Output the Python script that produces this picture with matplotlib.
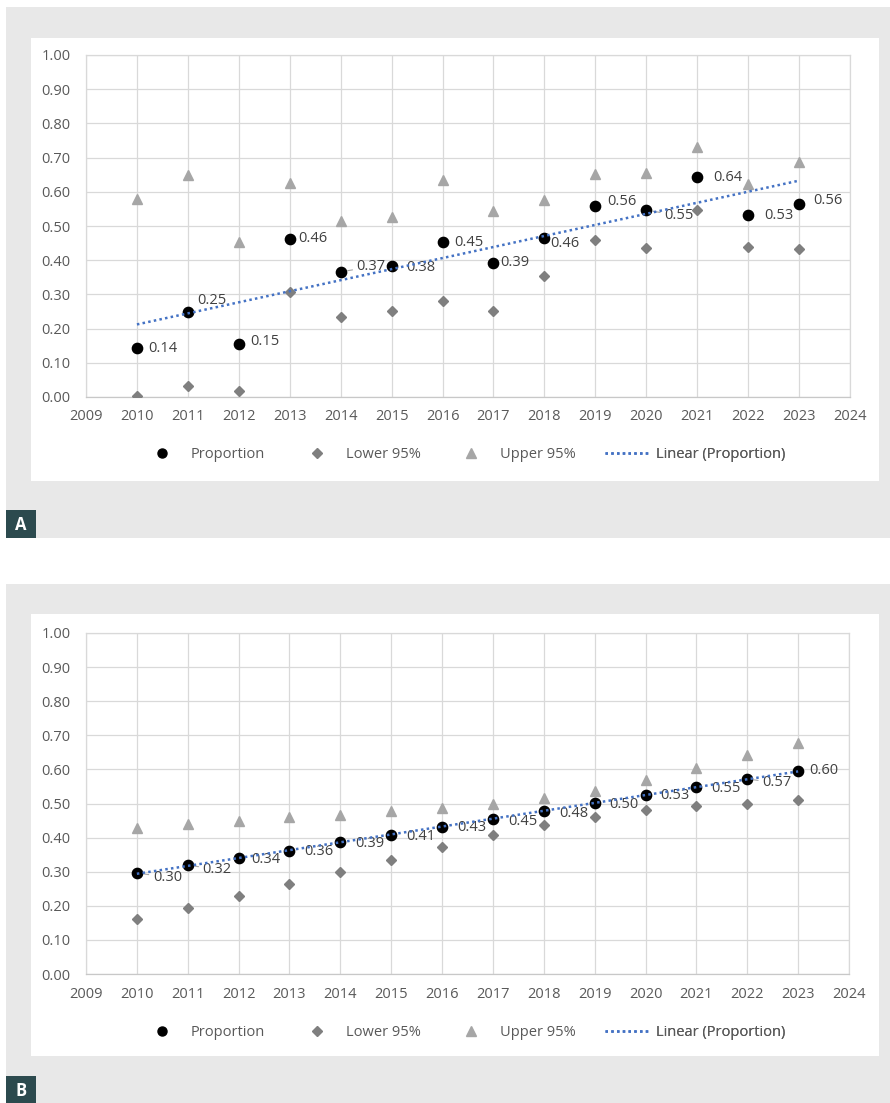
import matplotlib
matplotlib.use('Agg')
import matplotlib.pyplot as plt
from matplotlib.patches import Rectangle
from matplotlib.lines import Line2D
import numpy as np

# ---------------- data ----------------
years = [2010, 2011, 2012, 2013, 2014, 2015, 2016, 2017, 2018, 2019, 2020, 2021, 2022, 2023]

a_prop = [0.143, 0.250, 0.154, 0.463, 0.366, 0.384, 0.453, 0.392, 0.464, 0.558, 0.547, 0.643, 0.532, 0.565]
a_lower = [0.003, 0.032, 0.019, 0.306, 0.233, 0.252, 0.281, 0.251, 0.355, 0.460, 0.435, 0.548, 0.439, 0.432]
a_upper = [0.578, 0.649, 0.452, 0.625, 0.516, 0.527, 0.635, 0.545, 0.575, 0.652, 0.655, 0.730, 0.624, 0.688]

b_prop = [0.296, 0.319, 0.341, 0.362, 0.386, 0.407, 0.430, 0.454, 0.478, 0.501, 0.526, 0.548, 0.572, 0.596]
b_lower = [0.162, 0.194, 0.228, 0.263, 0.298, 0.334, 0.371, 0.407, 0.438, 0.461, 0.480, 0.493, 0.500, 0.511]
b_upper = [0.429, 0.440, 0.450, 0.460, 0.467, 0.477, 0.488, 0.498, 0.515, 0.538, 0.569, 0.604, 0.642, 0.678]

x_ticks = list(range(2009, 2025))
y_ticks = [0.0, 0.1, 0.2, 0.3, 0.4, 0.5, 0.6, 0.7, 0.8, 0.9, 1.0]
legend_labels = ['Proportion', 'Lower 95%', 'Upper 95%', 'Linear (Proportion)']
panel_letters = ['A', 'B']

# ---------------- styles / layout (pixels) ----------------
# label offsets (dx, dy) in pixels from the point (dy positive = down)
a_label_off = [(11, 0), (9, -11), (11, -3), (9, 0), (16, -5), (15, 2), (12, 0),
               (7, 0), (6, 5), (12, -5), (18, 6), (16, 0), (16, 0), (14, -3)]
a_leader = [False, False, False, False, True, False, False,
            False, False, False, True, False, False, False]
b_label_off = [(16, 4), (15, 4), (13, 2), (15, 1), (15, 1), (15, 1), (15, 0),
               (15, 2), (15, 2), (15, 1), (15, 1), (15, 1), (15, 4), (11, 0)]
b_leader = [True, True, False, False, False, False, False,
            False, False, False, False, False, True, False]

W, H = 890, 1103
plt.rcParams['font.family'] = ['Open Sans', 'DejaVu Sans']
FS = 10.5
TICK_C = '#595959'
LAB_C = '#404040'
GRID_C = '#d9d9d9'
BG = '#e8e8e8'
BOX_C = '#2c4a4e'
TREND_C = '#4472c4'

fig = plt.figure(figsize=(W / 100, H / 100), dpi=100)


def fx(px):
    return px / W


def fy(py):
    return 1 - py / H


def rect_px(x0, y0, x1, y1, color, z):
    fig.patches.append(Rectangle((fx(x0), fy(y1)), fx(x1) - fx(x0), fy(y0) - fy(y1),
                                 transform=fig.transFigure, facecolor=color,
                                 edgecolor='none', zorder=z))


panels = [
    dict(prop=a_prop, lower=a_lower, upper=a_upper, off=a_label_off, leader=a_leader,
         gray=(6, 7, 890, 538), white=(31, 38, 879, 481), ax=(86, 55, 850, 397),
         leg_y=455, box=(6, 510, 36, 538)),
    dict(prop=b_prop, lower=b_lower, upper=b_upper, off=b_label_off, leader=b_leader,
         gray=(6, 584, 890, 1103), white=(31, 614, 879, 1056), ax=(86, 633, 849, 974),
         leg_y=1033, box=(6, 1076, 36, 1103)),
]

leg_x = [140, 295, 449, 605]

for p, letter in zip(panels, panel_letters):
    rect_px(*p['gray'], BG, -3)
    rect_px(*p['white'], 'white', -2)
    rect_px(*p['box'], BOX_C, -1)
    bx0, by0, bx1, by1 = p['box']
    fig.text(fx((bx0 + bx1) / 2), fy((by0 + by1) / 2 + 1), letter, color='white',
             fontsize=12, fontweight='bold', ha='center', va='center')

    x0, y0, x1, y1 = p['ax']
    ax = fig.add_axes([fx(x0), fy(y1), fx(x1) - fx(x0), fy(y0) - fy(y1)])
    ax.set_zorder(1)
    ax.set_facecolor('none')
    ax.set_xlim(2009, 2024)
    ax.set_ylim(0, 1)
    ax.set_xticks(x_ticks)
    ax.set_yticks(y_ticks)
    ax.set_xticklabels([str(t) for t in x_ticks])
    ax.set_yticklabels(['%.2f' % t for t in y_ticks])
    ax.tick_params(axis='both', length=0, labelsize=FS, labelcolor=TICK_C)
    ax.tick_params(axis='x', pad=9)
    ax.tick_params(axis='y', pad=11)
    ax.grid(True, color=GRID_C, lw=0.9, zorder=0)
    ax.set_axisbelow(True)
    for s in ax.spines.values():
        s.set_color(GRID_C)
        s.set_linewidth(0.9)
    ax.spines['bottom'].set_color('#c8c8c8')

    h_up, = ax.plot(years, p['upper'], linestyle='none', marker='^', ms=7.2,
                    color='#a6a6a6', zorder=3)
    h_lo, = ax.plot(years, p['lower'], linestyle='none', marker='D', ms=5.5,
                    color='#7f7f7f', zorder=3)
    h_pr, = ax.plot(years, p['prop'], linestyle='none', marker='o', ms=7.4,
                    color='black', zorder=4)

    for yr, v, (dx, dy), ld in zip(years, p['prop'], p['off'], p['leader']):
        kw = {}
        if ld:
            kw['arrowprops'] = dict(arrowstyle='-', color='#a6a6a6', lw=0.8,
                                    shrinkA=1, shrinkB=5)
        ax.annotate('%.2f' % v, xy=(yr, v), xytext=(dx * 0.72, -dy * 0.72),
                    textcoords='offset points', ha='left', va='center',
                    fontsize=FS, color=LAB_C, zorder=5, **kw)

    yrs = np.array(years, dtype=float)
    coef = np.polyfit(yrs, np.array(p['prop']), 1)
    xt = np.array([yrs[0], yrs[-1]])
    h_tr, = ax.plot(xt, np.polyval(coef, xt), color=TREND_C, lw=1.8,
                    linestyle=(0, (1.0, 1.3)), dash_capstyle='butt', zorder=6)

    leg_handles = [
        Line2D([], [], linestyle='none', marker='o', ms=6.5, color='black'),
        Line2D([], [], linestyle='none', marker='D', ms=4.8, color='#7f7f7f'),
        Line2D([], [], linestyle='none', marker='^', ms=6.5, color='#a6a6a6'),
        Line2D([], [], color=TREND_C, lw=1.8, linestyle=(0, (1.0, 1.3))),
    ]
    for hnd, lab, lx in zip(leg_handles, legend_labels, leg_x):
        lg = ax.legend([hnd], [lab], loc='center left',
                       bbox_to_anchor=(fx(lx), fy(p['leg_y'])),
                       bbox_transform=fig.transFigure, frameon=False,
                       fontsize=FS, handlelength=3.0, handletextpad=0.48,
                       borderpad=0, borderaxespad=0, labelcolor=TICK_C)
        ax.add_artist(lg)

fig.savefig('out.png', dpi=100)
